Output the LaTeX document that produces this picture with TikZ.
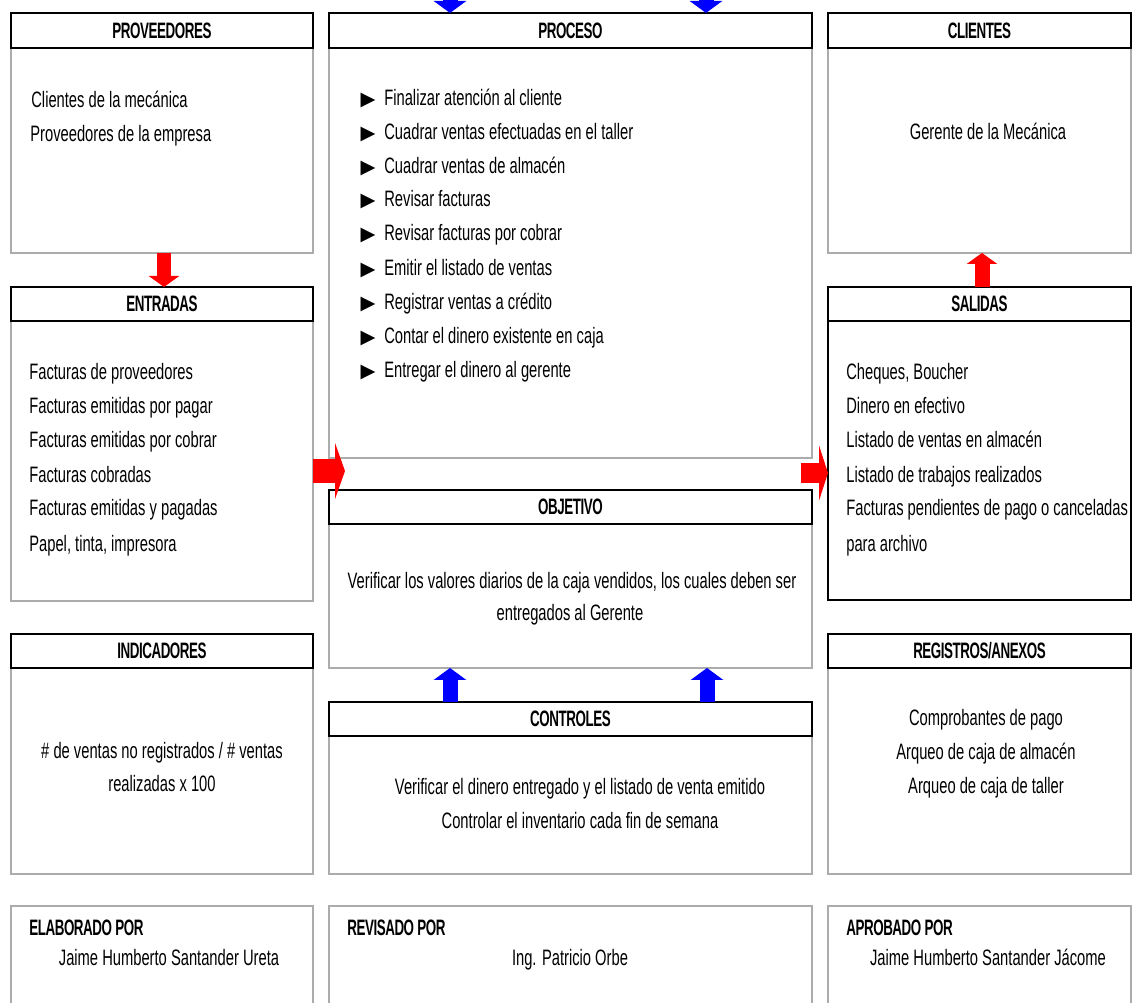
\documentclass[tikz,border=0pt]{standalone}
\usepackage{fontspec}
\setmainfont[FakeStretch=0.66]{Liberation Sans}
\newfontfamily\headfont[FakeStretch=0.6,LetterSpace=-2]{Liberation Sans}
\newfontfamily\symfont{DejaVu Sans}
\usetikzlibrary{arrows.meta}
\newcommand\bodyfs{\fontsize{12.7pt}{15pt}\selectfont}
\newcommand\headfs{\headfont\fontsize{12.7pt}{15pt}\selectfont\bfseries}

\begin{document}
\begin{tikzpicture}[x=0.02cm,y=-0.02cm,
  frame/.style={draw=gray!65, line width=0.04cm, anchor=north west, inner sep=0, outer sep=0},
  blackframe/.style={frame, draw=black, line width=0.04cm},
  head/.style={draw=black, line width=0.05cm, anchor=north west, inner sep=0, outer sep=0, minimum height=0.68cm},
  w1/.style={minimum width=6.04cm},
  w2/.style={minimum width=9.66cm},
  w3/.style={minimum width=6.06cm},
  htext/.style={inner sep=0, font=\headfs},
  ltext/.style={anchor=base west, inner sep=0, font=\bodyfs},
  ctext/.style={anchor=base, inner sep=0, font=\bodyfs},
  bullet/.style={anchor=base, inner sep=0, font=\symfont\fontsize{11pt}{11pt}\selectfont},
  redarrow/.style={draw=red, line width=#1, -{Triangle[length=0.22cm,width=0.6cm]}},
  redarrow/.default=0.28cm,
  bluearrow/.style={draw=blue, line width=0.3cm, -{Triangle[length=0.24cm,width=0.64cm]}},
]
\clip (0,0) rectangle (1133,1003);
\fill[white] (0,0) rectangle (1133,1003);

% ---------- outer frames ----------
\node[frame, w1, minimum height=4.8cm]  (prov) at (11,13) {};
\node[frame, w1, minimum height=6.28cm] (entr) at (11,287) {};
\node[frame, w1, minimum height=4.8cm]  (ind)  at (11,634) {};
\node[frame, w2, minimum height=8.9cm]  (proc) at (329,13) {};
\node[frame, w2, minimum height=3.56cm] (obj)  at (329,490) {};
\node[frame, w2, minimum height=3.44cm] (ctrl) at (329,702) {};
\node[frame, w3, minimum height=4.8cm]  (cli)  at (828,13) {};
\node[blackframe, w3, minimum height=6.26cm] (sal) at (828,287) {};
\node[frame, w3, minimum height=4.8cm]  (reg)  at (828,634) {};
\node[frame, w1, minimum height=3cm] (elab) at (11,906) {};
\node[frame, w2, minimum height=3cm] (revi) at (329,906) {};
\node[frame, w3, minimum height=3cm] (apro) at (828,906) {};

% ---------- header bars ----------
\node[head, w1, minimum height=0.7cm] (provH) at (11,13) {};
\node[head, w1] (entrH) at (11,287) {};
\node[head, w1] (indH)  at (11,634) {};
\node[head, w2, minimum height=0.7cm] (procH) at (329,13) {};
\node[head, w2] (objH)  at (329,490) {};
\node[head, w2] (ctrlH) at (329,702) {};
\node[head, w3, minimum height=0.7cm] (cliH)  at (828,13) {};
\node[head, w3] (salH)  at (828,287) {};
\node[head, w3] (regH)  at (828,634) {};

\node[htext] at (provH) {PROVEEDORES};
\node[htext] at (entrH) {ENTRADAS};
\node[htext] at (indH)  {INDICADORES};
\node[htext] at (procH) {PROCESO};
\node[htext] at (objH)  {OBJETIVO};
\node[htext] at (ctrlH) {CONTROLES};
\node[htext] at (cliH)  {CLIENTES};
\node[htext] at (salH)  {SALIDAS};
\node[htext] at (regH)  {REGISTROS/ANEXOS};

% ---------- proveedores ----------
\node[ltext] (p1) at (31,108) {Clientes de la mecánica};
\node[ltext] (p2) at (30,142) {Proveedores de la empresa};

% ---------- entradas ----------
\node[ltext] (e1) at (29,380) {Facturas de proveedores};
\node[ltext] (e2) at (29,414) {Facturas emitidas por pagar};
\node[ltext] (e3) at (29,448) {Facturas emitidas por cobrar};
\node[ltext] (e4) at (29,482) {Facturas cobradas};
\node[ltext] (e5) at (29,516) {Facturas emitidas y pagadas};
\node[ltext] (e6) at (29,551) {Papel, tinta, impresora};

% ---------- proceso ----------
\foreach \t/\y [count=\i] in {
  Finalizar atención al cliente/106,
  Cuadrar ventas efectuadas en el taller/140,
  Cuadrar ventas de almacén/174,
  Revisar facturas/207,
  Revisar facturas por cobrar/241,
  Emitir el listado de ventas/276,
  Registrar ventas a crédito/310,
  Contar el dinero existente en caja/344,
  Entregar el dinero al gerente/378}{
  \node[bullet] (b\i) at (368,\y) {▶};
  \node[ltext] (q\i) at (384,\y) {\t};
}

% ---------- objetivo ----------
\node[ctext] (o1) at (572,588) {Verificar los valores diarios de la caja vendidos, los cuales deben ser};
\node[ctext] (o2) at (570,620) {entregados al Gerente};

% ---------- clientes ----------
\node[ctext] (c1) at (988,140) {Gerente de la Mecánica};

% ---------- salidas ----------
\node[ltext] (s1) at (846,380) {Cheques, Boucher};
\node[ltext] (s2) at (846,414) {Dinero en efectivo};
\node[ltext] (s3) at (846,448) {Listado de ventas en almacén};
\node[ltext] (s4) at (846,482) {Listado de trabajos realizados};
\node[ltext] (s5) at (846,516) {Facturas pendientes de pago o canceladas};
\node[ltext] (s6) at (846,551) {para archivo};

% ---------- indicadores ----------
\node[ctext] (i1) at (162,758) {\# de ventas no registrados / \# ventas};
\node[ctext] (i2) at (162,791) {realizadas x 100};

% ---------- controles ----------
\node[ctext] (k1) at (580,794) {Verificar el dinero entregado y el listado de venta emitido};
\node[ctext] (k2) at (580,828) {Controlar el inventario cada fin de semana};

% ---------- registros ----------
\node[ctext] (r1) at (986,725) {Comprobantes de pago};
\node[ctext] (r2) at (986,759) {Arqueo de caja de almacén};
\node[ctext] (r3) at (986,793) {Arqueo de caja de taller};

% ---------- firmas ----------
\node[ltext, font=\headfs] (f1) at (29,935) {ELABORADO POR};
\node[ctext] (f1n) at (169,965) {Jaime Humberto Santander Ureta};
\node[ltext, font=\headfs] (f2) at (347,935) {REVISADO POR};
\node[ctext] (f2n) at (570,965) {Ing. Patricio Orbe};
\node[ltext, font=\headfs] (f3) at (846,935) {APROBADO POR};
\node[ctext] (f3n) at (988,965) {Jaime Humberto Santander Jácome};

% ---------- connectors ----------
\coordinate (topL) at (450,-30);
\coordinate (topR) at (706,-30);
\draw[bluearrow] (topL) -- (topL |- proc.north);
\draw[bluearrow] (topR) -- (topR |- proc.north);

\coordinate (dnx) at (164,0);
\draw[redarrow=0.28cm] (prov.south -| dnx) -- (entr.north -| dnx);

\coordinate (upx) at (982,0);
\draw[redarrow=0.3cm] (sal.north -| upx) -- (cli.south -| upx);

\coordinate (inTip) at (345,471);
\draw[redarrow=0.5cm, -{Triangle[length=0.2cm,width=1.12cm]}] (entr.east |- inTip) -- (inTip);
\coordinate (outTail) at (801,473);
\draw[redarrow=0.42cm, -{Triangle[length=0.18cm,width=1.1cm]}] (outTail) -- (sal.west |- outTail);

\coordinate (cL) at (450,0);
\coordinate (cR) at (707,0);
\draw[bluearrow] (ctrl.north -| cL) -- (obj.south -| cL);
\draw[bluearrow] (ctrl.north -| cR) -- (obj.south -| cR);
\end{tikzpicture}
\end{document}
